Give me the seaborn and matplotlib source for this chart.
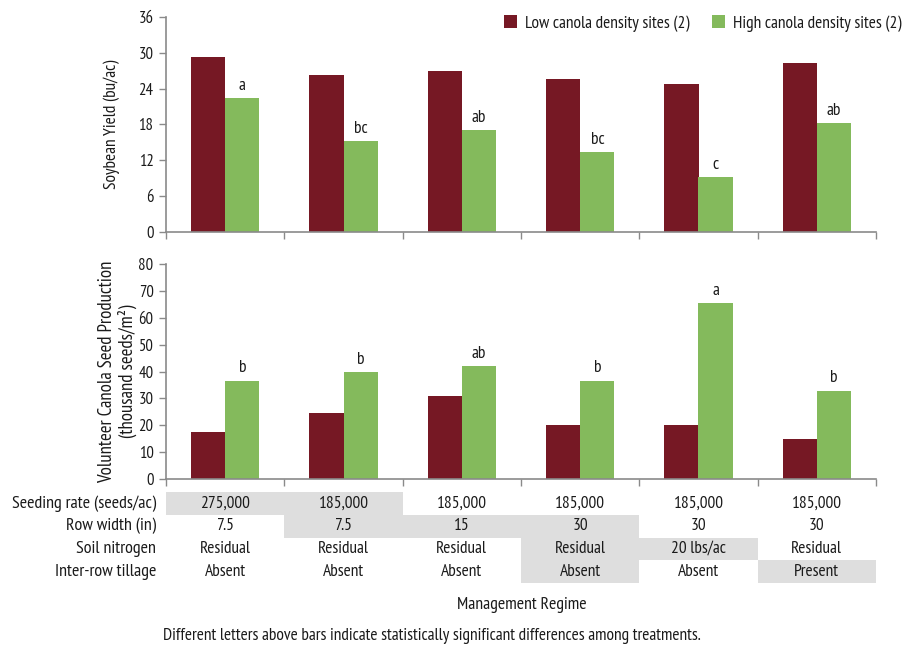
import matplotlib
matplotlib.use("Agg")
import matplotlib.pyplot as plt
import seaborn as sns
import pandas as pd
from matplotlib.patches import Patch, Rectangle

# ---- data ----
regimes = ["1", "2", "3", "4", "5", "6"]
series = ["Low canola density sites (2)", "High canola density sites (2)"]

yield_low = [29.3, 26.3, 27.0, 25.6, 24.8, 28.3]
yield_high = [22.4, 15.2, 17.1, 13.4, 9.2, 18.3]
yield_letters = ["a", "bc", "ab", "bc", "c", "ab"]

seed_low = [17.4, 24.7, 31.0, 20.2, 20.2, 14.7]
seed_high = [36.6, 39.9, 42.1, 36.6, 65.5, 32.9]
seed_letters = ["b", "b", "ab", "b", "a", "b"]

row_labels = ["Seeding rate (seeds/ac)", "Row width (in)", "Soil nitrogen", "Inter-row tillage"]
seeding_rate = ["275,000", "185,000", "185,000", "185,000", "185,000", "185,000"]
row_width = ["7.5", "7.5", "15", "30", "30", "30"]
soil_nitrogen = ["Residual", "Residual", "Residual", "Residual", "20 lbs/ac", "Residual"]
tillage = ["Absent", "Absent", "Absent", "Absent", "Absent", "Present"]
# cells that differ from the standard practice are shaded
shade_seeding = [1, 1, 0, 0, 0, 0]
shade_width = [0, 1, 1, 1, 0, 0]
shade_nitrogen = [0, 0, 0, 1, 1, 0]
shade_tillage = [0, 0, 0, 1, 0, 1]

yield_ticks = [0, 6, 12, 18, 24, 30, 36]
seed_ticks = [0, 10, 20, 30, 40, 50, 60, 70, 80]

# ---- style ----
sns.set_style("white")
plt.rcParams["font.family"] = ["PT Sans Narrow", "Archivo Narrow", "DejaVu Sans"]
RED = "#761824"
GREEN = "#84ba5c"
AXIS = "#8a8a8a"
SHADE = "#dedede"
TXT = "#1a1a1a"
palette = {series[0]: RED, series[1]: GREEN}

W, H = 916, 646
fig = plt.figure(figsize=(W / 100, H / 100), dpi=100)


def px_axes(left, top, right, bottom):
    return fig.add_axes([left / W, 1 - bottom / H, (right - left) / W, (bottom - top) / H])


def long_frame(low, high):
    return pd.DataFrame({
        "regime": regimes * 2,
        "series": [series[0]] * len(regimes) + [series[1]] * len(regimes),
        "value": list(low) + list(high),
    })


def bar_panel(ax, low, high, letters, ticks, ylabel, label_x, label_size):
    sns.barplot(data=long_frame(low, high), x="regime", y="value", hue="series",
                hue_order=series, order=regimes, palette=palette, saturation=1,
                width=0.58, errorbar=None, linewidth=0, ax=ax)
    ax.get_legend().remove()
    ax.set_xlim(-0.5, len(regimes) - 0.5)
    ax.set_ylim(ticks[0], ticks[-1])
    ax.set_yticks(ticks)
    ax.set_xticks([i - 0.5 for i in range(len(regimes) + 1)])
    ax.set_xticklabels([])
    ax.set_xlabel("")
    ax.set_ylabel(ylabel, fontsize=label_size, color=TXT, linespacing=1.1)
    ax.yaxis.set_label_coords((label_x - 166) / 710, 0.5)
    for s in ["top", "right"]:
        ax.spines[s].set_visible(False)
    for s in ["left", "bottom"]:
        ax.spines[s].set_color(AXIS)
        ax.spines[s].set_linewidth(1.2)
    ax.tick_params(axis="both", direction="out", length=5, width=1, color=AXIS,
                   labelsize=12, labelcolor=TXT, left=True, bottom=True, pad=4)
    # significance letters above the high-density bars
    for i, (v, lab) in enumerate(zip(high, letters)):
        ax.annotate(lab, (i + 0.145, v), xytext=(0, 3), textcoords="offset points",
                    ha="center", va="bottom", fontsize=12.5, color=TXT)


ax1 = px_axes(166, 17, 876, 232)
bar_panel(ax1, yield_low, yield_high, yield_letters, yield_ticks,
          "Soybean Yield (bu/ac)", 120, 12.5)

ax2 = px_axes(166, 264, 876, 479)
bar_panel(ax2, seed_low, seed_high, seed_letters, seed_ticks,
          "Volunteer Canola Seed Production\n(thousand seeds/m²)", 137, 13.5)

handles = [Patch(facecolor=palette[s], edgecolor="none") for s in series]
fig.legend(handles, series, loc="upper right", bbox_to_anchor=(901 / W, 1 - 15 / H),
           ncol=2, frameon=False, fontsize=12.5, handlelength=0.75, handleheight=0.75,
           handletextpad=0.45, columnspacing=1.3, labelcolor=TXT,
           borderaxespad=0, borderpad=0)

# ---- management table ----
axt = px_axes(166, 492, 876, 583)
axt.set_xlim(-0.5, len(regimes) - 0.5)
axt.set_ylim(len(row_labels), 0)
axt.axis("off")
rows = [seeding_rate, row_width, soil_nitrogen, tillage]
shades = [shade_seeding, shade_width, shade_nitrogen, shade_tillage]
for r, (vals, shade, lab) in enumerate(zip(rows, shades, row_labels)):
    for c, (v, s) in enumerate(zip(vals, shade)):
        if s:
            axt.add_patch(Rectangle((c - 0.5, r), 1, 1, facecolor=SHADE,
                                    edgecolor="none", zorder=0))
        axt.text(c, r + 0.5, v, ha="center", va="center", fontsize=12.5, color=TXT)
    axt.text(-10 / 710, 1 - (r + 0.5) / len(row_labels), lab,
             transform=axt.transAxes, ha="right", va="center", fontsize=13, color=TXT)

fig.text(522 / W, 1 - 605 / H, "Management Regime", ha="center", va="center",
         fontsize=12.8, color=TXT)
fig.text(432 / W, 1 - 636 / H,
         "Different letters above bars indicate statistically significant differences among treatments.",
         ha="center", va="center", fontsize=12.5, color=TXT)

fig.savefig("out.png", dpi=100)
